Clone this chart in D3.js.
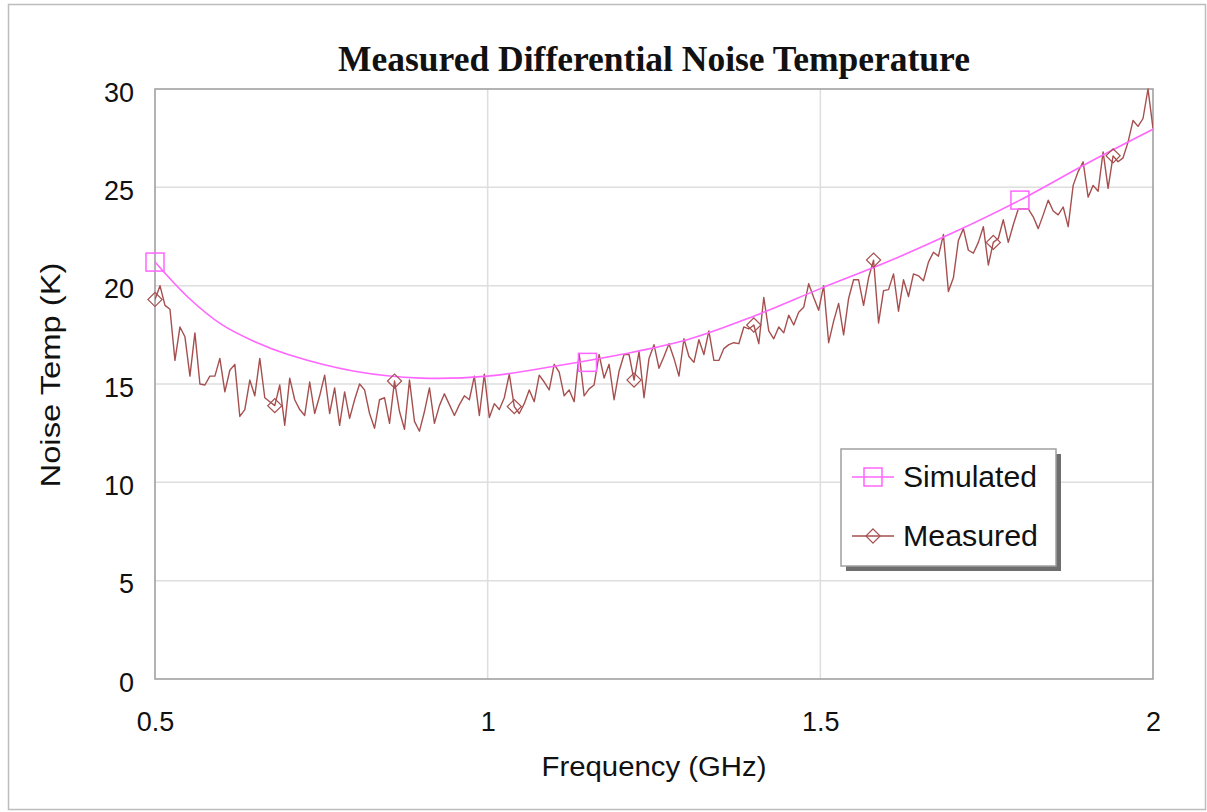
<!DOCTYPE html>
<html>
<head>
<meta charset="utf-8">
<script src="https://cdn.jsdelivr.net/npm/d3@7"></script>
<style>
  html, body { margin: 0; padding: 0; background: #fff; }
  svg { display: block; }
</style>
</head>
<body>
<svg id="chart" width="1207" height="812"></svg>
<script>
// ---------- DATA ----------
const chartTitle = "Measured Differential Noise Temperature";
const xTickValues = [0.5, 1, 1.5, 2];
const xTickLabels = ["0.5", "1", "1.5", "2"];
const yTickValues = [0, 5, 10, 15, 20, 25, 30];
const yTickLabels = ["0", "5", "10", "15", "20", "25", "30"];

// Simulated noise temperature (K) vs frequency (GHz)
const simFreq = [0.5, 0.55, 0.6, 0.65, 0.7, 0.8, 0.9, 1.0, 1.1, 1.2, 1.3, 1.4, 1.5, 1.6, 1.7, 1.8, 1.9, 2.0];
const simTemp = [21.2, 19.4, 18.03, 17.15, 16.5, 15.65, 15.3, 15.4, 15.9, 16.5, 17.25, 18.45, 19.85, 21.2, 22.7, 24.35, 26.2, 27.95];
const simMarkerFreq = [0.5, 1.15, 1.8];
const simMarkerTemp = [21.2, 16.1, 24.35];

// Measured noise temperature (K), sweep 0.5 GHz -> 2 GHz, 201 points
const measStartGHz = 0.5;
const measStepGHz = 0.0075;
const measTemp = [
  19.3, 20.0, 19.0, 18.8, 16.2, 17.9, 17.4, 15.4, 17.6, 15.0,
  14.95, 15.4, 15.4, 16.3, 14.6, 15.7, 16.0, 13.35, 13.7, 15.2,
  14.4, 16.3, 14.3, 14.1, 13.9, 14.95, 12.9, 15.3, 14.2, 13.7,
  13.4, 15.1, 13.5, 14.4, 15.45, 13.5, 14.8, 12.9, 14.6, 13.25,
  14.2, 15.0, 14.7, 13.5, 12.75, 14.2, 14.3, 13.0, 15.15, 13.6,
  12.7, 15.2, 13.1, 12.6, 13.6, 14.8, 13.0, 13.9, 14.5, 13.95,
  13.4, 13.95, 14.4, 14.2, 15.4, 13.4, 15.5, 13.3, 14.0, 13.7,
  14.3, 15.5, 13.85, 13.5, 14.0, 14.7, 14.1, 15.45, 15.1, 14.7,
  16.0, 15.6, 14.4, 14.7, 14.1, 16.55, 14.4, 14.75, 14.95, 16.5,
  15.3, 16.0, 14.2, 15.65, 16.5, 16.5, 15.2, 16.65, 14.3, 16.3,
  17.0, 15.8, 16.4, 17.05, 16.3, 15.4, 17.3, 16.4, 16.1, 17.25,
  16.5, 17.7, 16.2, 16.2, 16.8, 17.0, 17.1, 17.05, 17.9, 17.8,
  18.0, 17.05, 19.4, 17.7, 17.3, 17.9, 17.6, 18.5, 18.0, 18.65,
  18.9, 20.1, 19.4, 18.75, 20.0, 17.1, 18.2, 19.1, 17.5, 19.35,
  20.3, 20.3, 19.0, 20.4, 21.3, 18.1, 19.75, 19.8, 20.6, 18.7,
  20.3, 19.45, 20.6, 20.5, 20.25, 21.2, 21.7, 21.5, 22.6, 19.7,
  20.4, 22.3, 22.9, 21.8, 21.65, 22.2, 23.0, 21.05, 22.2, 22.4,
  23.35, 22.2, 23.1, 23.9, 23.9, 23.9, 23.5, 22.9, 23.6, 24.35,
  23.8, 23.6, 24.0, 23.0, 25.1, 25.8, 26.3, 24.5, 25.1, 24.8,
  26.8, 24.95, 26.6, 26.3, 26.5, 27.3, 28.4, 28.1, 28.5, 30.0,
  28.0
];
const measMarkerEvery = 24;

const seriesNames = ["Simulated", "Measured"];
const seriesColors = ["#ff66ff", "#a64f4f"];

// ---------- LAYOUT ----------
const svg = d3.select("#chart");
const plot = { left: 155, right: 1153, top: 89, bottom: 679 };
const sans = "Liberation Sans, Arial, sans-serif";

// outer border
svg.append("rect")
  .attr("x", 8.5).attr("y", 4.5)
  .attr("width", 1197).attr("height", 805)
  .attr("fill", "#fff").attr("stroke", "#bdbdbd").attr("stroke-width", 1.5);

const x = d3.scaleLinear().domain([0.5, 2]).range([plot.left, plot.right]);
const y = d3.scaleLinear().domain([0, 30]).range([plot.bottom, plot.top]);

// gridlines
const grid = svg.append("g");
grid.selectAll("line.h").data(yTickValues.filter(v => v > 0 && v < 30)).enter()
  .append("line")
  .attr("x1", plot.left).attr("x2", plot.right)
  .attr("y1", d => y(d)).attr("y2", d => y(d))
  .attr("stroke", "#dedede").attr("stroke-width", 1.5);
grid.selectAll("line.v").data(xTickValues.filter(v => v > 0.5 && v < 2)).enter()
  .append("line")
  .attr("y1", plot.top).attr("y2", plot.bottom)
  .attr("x1", d => x(d)).attr("x2", d => x(d))
  .attr("stroke", "#dedede").attr("stroke-width", 1.5);

// plot frame
svg.append("rect")
  .attr("x", plot.left).attr("y", plot.top)
  .attr("width", plot.right - plot.left).attr("height", plot.bottom - plot.top)
  .attr("fill", "none").attr("stroke", "#9a9a9a").attr("stroke-width", 1.5);

// axes (labels via d3 axis generators)
const yAxis = d3.axisLeft(y).tickValues(yTickValues)
  .tickFormat((d, i) => yTickLabels[i]).tickSize(0).tickPadding(21);
const gy = svg.append("g").attr("transform", `translate(${plot.left},0)`).call(yAxis);
gy.select(".domain").remove();
gy.selectAll("text").attr("font-family", sans)
  .attr("font-size", 27).attr("fill", "#111").attr("dy", "0.45em");

const xAxis = d3.axisBottom(x).tickValues(xTickValues)
  .tickFormat((d, i) => xTickLabels[i]).tickSize(0).tickPadding(33);
const gx = svg.append("g").attr("transform", `translate(0,${plot.bottom})`).call(xAxis);
gx.select(".domain").remove();
gx.selectAll("text").attr("font-family", sans)
  .attr("font-size", 27).attr("fill", "#111");

// title
svg.append("text")
  .attr("x", 654).attr("y", 71)
  .attr("text-anchor", "middle")
  .attr("font-family", "Liberation Serif, Times New Roman, serif")
  .attr("font-weight", "bold").attr("font-size", 35)
  .attr("textLength", 632).attr("lengthAdjust", "spacingAndGlyphs")
  .attr("fill", "#111")
  .text(chartTitle);

// axis titles
svg.append("text")
  .attr("x", 654).attr("y", 776)
  .attr("text-anchor", "middle")
  .attr("font-family", sans)
  .attr("font-size", 27).attr("fill", "#111")
  .attr("textLength", 225).attr("lengthAdjust", "spacingAndGlyphs")
  .text("Frequency (GHz)");
svg.append("text")
  .attr("transform", "translate(60,375) rotate(-90)")
  .attr("text-anchor", "middle")
  .attr("font-family", sans)
  .attr("font-size", 27).attr("fill", "#111")
  .attr("textLength", 225).attr("lengthAdjust", "spacingAndGlyphs")
  .text("Noise Temp (K)");

// clip for data
svg.append("clipPath").attr("id", "clip").append("rect")
  .attr("x", plot.left).attr("y", plot.top - 2)
  .attr("width", plot.right - plot.left).attr("height", plot.bottom - plot.top + 2);

// measured line
const measData = measTemp.map((v, i) => ({ f: measStartGHz + i * measStepGHz, v }));
const line = d3.line().x(d => x(d.f)).y(d => y(d.v));
svg.append("path").datum(measData)
  .attr("d", line)
  .attr("fill", "none").attr("stroke", seriesColors[1]).attr("stroke-width", 1.4)
  .attr("stroke-linejoin", "round")
  .attr("clip-path", "url(#clip)");

// simulated line
const simData = simFreq.map((f, i) => ({ f, v: simTemp[i] }));
const simLine = d3.line().x(d => x(d.f)).y(d => y(d.v)).curve(d3.curveCatmullRom);
svg.append("path").datum(simData)
  .attr("d", simLine)
  .attr("fill", "none").attr("stroke", seriesColors[0]).attr("stroke-width", 1.6);

// markers
const measMarkers = measData.filter((d, i) => i % measMarkerEvery === 0);
svg.append("g").selectAll("path").data(measMarkers).enter().append("path")
  .attr("d", d3.symbol().type(d3.symbolSquare).size(100)())
  .attr("transform", d => `translate(${x(d.f)},${y(d.v)}) rotate(45)`)
  .attr("fill", "none").attr("stroke", seriesColors[1]).attr("stroke-width", 1.2);

const simMarkers = simMarkerFreq.map((f, i) => ({ f, v: simMarkerTemp[i] }));
svg.append("g").selectAll("rect").data(simMarkers).enter().append("rect")
  .attr("x", d => x(d.f) - 9).attr("y", d => y(d.v) - 9)
  .attr("width", 18).attr("height", 18)
  .attr("fill", "none").attr("stroke", seriesColors[0]).attr("stroke-width", 1.5);

// legend
const lg = svg.append("g");
const L = { x: 841, y: 449, w: 215, h: 117 };
lg.append("rect").attr("x", L.x + 5).attr("y", L.y + 5).attr("width", L.w).attr("height", L.h)
  .attr("fill", "#6e6e6e");
lg.append("rect").attr("x", L.x).attr("y", L.y).attr("width", L.w).attr("height", L.h)
  .attr("fill", "#fff").attr("stroke", "#a0a0a0").attr("stroke-width", 1.5);
const legendRows = [477, 536];
const legendTextLen = [134, 135];
seriesNames.forEach((name, i) => {
  const cy = legendRows[i];
  lg.append("line").attr("x1", 852).attr("x2", 894).attr("y1", cy).attr("y2", cy)
    .attr("stroke", seriesColors[i]).attr("stroke-width", 1.5);
  if (i === 0) {
    lg.append("rect").attr("x", 864).attr("y", cy - 9).attr("width", 18).attr("height", 18)
      .attr("fill", "none").attr("stroke", seriesColors[0]).attr("stroke-width", 1.5);
  } else {
    lg.append("path").attr("d", d3.symbol().type(d3.symbolSquare).size(100)())
      .attr("transform", `translate(873,${cy}) rotate(45)`)
      .attr("fill", "none").attr("stroke", seriesColors[1]).attr("stroke-width", 1.2);
  }
  lg.append("text").attr("x", 903).attr("y", cy).attr("dy", "0.36em")
    .attr("font-family", sans)
    .attr("font-size", 29).attr("fill", "#111")
    .attr("textLength", legendTextLen[i]).attr("lengthAdjust", "spacingAndGlyphs")
    .text(name);
});
</script>
</body>
</html>
